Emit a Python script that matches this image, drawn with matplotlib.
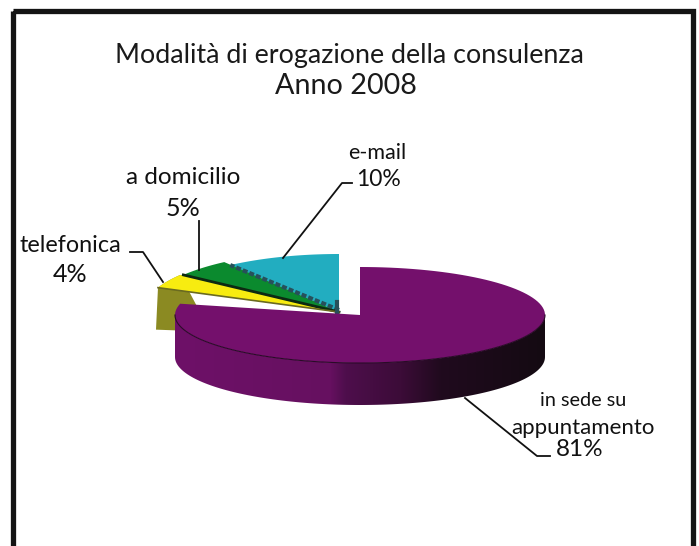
#!/usr/bin/env python3
"""Modalita di erogazione della consulenza, 2008 - exploded pseudo-3D pie."""
import numpy as np
import matplotlib
matplotlib.use("Agg")
import matplotlib.pyplot as plt
from matplotlib.patches import Polygon, Rectangle

plt.rcParams["font.family"] = ["Lato", "DejaVu Sans"]

categories = ["in sede su\nappuntamento", "telefonica", "a domicilio", "e-mail"]
shares = [81, 4, 5, 10]
slice_colors = ["#74106c", "#f7ec10", "#0b8a2e", "#22adc0"]
title_lines = ["Modalità di erogazione della consulenza", "Anno 2008"]

W, H = 699, 546


def arc(cx, cy, rx, ry, a0, a1, n=120):
    # angles in degrees clockwise from 12 o'clock, pixel coords (y down)
    t = np.radians(np.linspace(a0, a1, n))
    return np.column_stack([cx + rx * np.sin(t), cy - ry * np.cos(t)])


edges = np.cumsum([0] + shares) / 100 * 360

fig = plt.figure(figsize=(W / 100, H / 100), dpi=100, facecolor="white")
ax = fig.add_axes([0, 0, 1, 1])
ax.set_xlim(0, W)
ax.set_ylim(H, 0)
ax.axis("off")

# frame
ax.add_patch(Rectangle((12.5, 10.5), 680.5, 560, fill=False, ec="#141414", lw=3.8))

# exploded slices, back ones first
ex_x, ex_y, ex_rx, ex_ry = 339, 312, 185, 58
depth = 42
# each slice sits a bit further out than the plain explode
shift = {1: (-9, -3), 2: (-6, -3), 3: (0, 0)}

# olive outer wall of the telefonica slice
sx, sy = shift[1]
top = arc(ex_x + sx, ex_y + sy, ex_rx, ex_ry, edges[1], edges[2], 30)
wall = np.vstack([top, [[top[-1, 0] + 30, top[0, 1] + depth + 2], [top[0, 0] - 2, top[0, 1] + depth]]])
ax.add_patch(Polygon(wall, fc="#8b8a22", ec="none", zorder=2))

for i in [3, 2, 1]:
    sx, sy = shift[i]
    pts = arc(ex_x + sx, ex_y + sy, ex_rx, ex_ry, edges[i], edges[i + 1], 40)
    poly = np.vstack([[ex_x, ex_y], pts])
    ax.add_patch(Polygon(poly, fc=slice_colors[i], ec="none", zorder=3))
    start = pts[0]
    if i == 3:
        ax.plot([ex_x, start[0]], [ex_y - 2, start[1]], color="#27505a", lw=3,
                ls=(0, (1.2, 0.5)), zorder=4)
    elif i == 2:
        ax.plot([ex_x, start[0]], [ex_y, start[1]], color="#0c2a12", lw=2, zorder=4)
    else:
        ax.plot([ex_x, start[0]], [ex_y, start[1]], color="#6a6a20", lw=1.2, zorder=4)
ax.plot([ex_x - 2, ex_x - 2], [ex_y, ex_y - 10], color="#27505a", lw=3, zorder=4)

# main slice: dark gradient wall, then top face
cx, cy, rx, ry = 360, 315, 185, 48
front = arc(cx, cy, rx, ry, 90, 270, 120)
wall = np.vstack([front, front[::-1] + [0, depth]])
clip = Polygon(wall, fc="none", ec="none", transform=ax.transData)
ax.add_patch(clip)
grad_x = np.array([175, 330, 345, 400, 440, 545])
grad_r = np.array([0x6e, 0x66, 0x4e, 0x3c, 0x20, 0x14])
grad_g = np.array([0x10, 0x10, 0x0e, 0x0c, 0x0a, 0x0a])
grad_b = np.array([0x68, 0x60, 0x4c, 0x38, 0x1e, 0x12])
xs = np.arange(175, 546)
img = np.stack([np.interp(xs, grad_x, c) for c in (grad_r, grad_g, grad_b)], axis=-1)[None] / 255
im = ax.imshow(img, extent=(175, 546, 410, 300), aspect="auto", zorder=5)
im.set_clip_path(clip)
ax.set_xlim(0, W)
ax.set_ylim(H, 0)

# perspective squeezes the far end of the big slice a little
pts = arc(cx, cy, rx, ry, edges[0], edges[1] - 8)
ax.add_patch(Polygon(np.vstack([[cx, cy], pts]), fc=slice_colors[0], ec="none", zorder=6))
ax.plot(front[:, 0], front[:, 1], color="#2a0a28", lw=0.8, zorder=7)

# leader lines
leaders = [([465, 537, 550], [398, 456, 456]),
           ([130, 143, 163], [252, 252, 282]),
           ([199, 199], [270, 221]),
           ([283, 342, 352], [258, 183, 183])]
for lx, ly in leaders:
    ax.plot(lx, ly, color="#111111", lw=1.3, zorder=8)

# labels
label_kw = dict(ha="center", va="center", color="#111111", zorder=9)
ax.text(583, 401, "in sede su", fontsize=14.3, **label_kw)
ax.text(583, 428, "appuntamento", fontsize=16, **label_kw)
ax.text(580, 450, f"{shares[0]}%", fontsize=17.5, **label_kw)
ax.text(70, 245, categories[1], fontsize=16.8, **label_kw)
ax.text(70, 275, f"{shares[1]}%", fontsize=18, **label_kw)
ax.text(183, 178, categories[2], fontsize=17.5, **label_kw)
ax.text(183, 208, f"{shares[2]}%", fontsize=18, **label_kw)
ax.text(377, 153, categories[3], fontsize=15.5, **label_kw)
ax.text(378, 179, f"{shares[3]}%", fontsize=16.5, **label_kw)

# title
ax.text(349, 55, title_lines[0], fontsize=19.4, ha="center", va="center", color="#1a1a1a")
ax.text(346, 86, title_lines[1], fontsize=20.7, ha="center", va="center", color="#1a1a1a")

fig.savefig("out.png", dpi=100)
